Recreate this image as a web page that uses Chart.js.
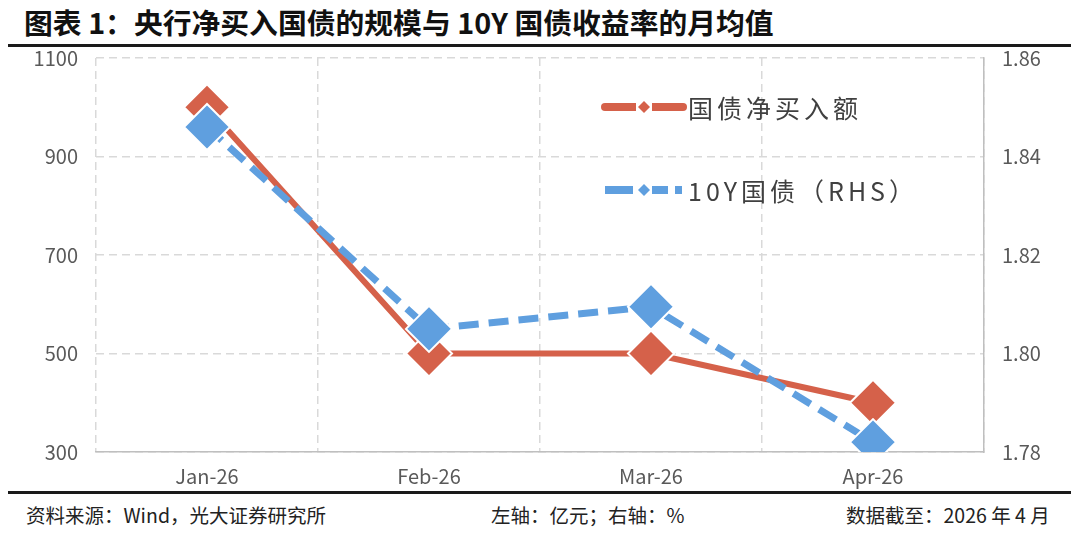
<!DOCTYPE html>
<html>
<head>
<meta charset="utf-8">
<script src="https://cdn.jsdelivr.net/npm/chart.js@4/dist/chart.umd.min.js"></script>
<style>
  html, body { margin: 0; padding: 0; background: #fff; }
  body { width: 1080px; height: 533px; position: relative; overflow: hidden;
         font-family: "Noto Sans CJK SC", "Noto Sans", sans-serif; }
  #title { position: absolute; left: 24px; top: 2px; font-size: 28.8px; font-weight: bold;
           color: #111; white-space: nowrap; line-height: 40px; }
  .rule { position: absolute; left: 8px; width: 1063px; height: 3px; background: #1a1a1a; }
  #wrap { position: absolute; left: 0; top: 28px; width: 1080px; height: 462px; }
  .foot { position: absolute; top: 501px; font-size: 19.5px; color: #222; white-space: nowrap; line-height: 28px; }
</style>
</head>
<body>
<div id="title">图表 1：央行净买入国债的规模与 10Y 国债收益率的月均值</div>
<div class="rule" style="top:44px"></div>
<div id="wrap"><canvas id="c"></canvas></div>
<div class="rule" style="top:491px"></div>
<div class="foot" style="left:26px">资料来源：Wind，光大证券研究所</div>
<div class="foot" style="left:491px">左轴：亿元；右轴：%</div>
<div class="foot" style="left:846px">数据截至：2026 年 4 月</div>

<script>
// ── Data ────────────────────────────────────────────────────────────────────
const months = ['Jan-26', 'Feb-26', 'Mar-26', 'Apr-26'];
const netBuy = [1000, 500, 500, 400];          // 国债净买入额, 亿元
const yield10y = [1.846, 1.805, 1.8095, 1.782]; // 10Y 国债, %
const leftTicks = [300, 500, 700, 900, 1100];
const rightTicks = [1.78, 1.80, 1.82, 1.84, 1.86];

const RED = '#d5614a';
const BLUE = '#5f9fdf';
const GRID = '#d9d9d9';
const TICK = '#595959';
const CANVAS_TOP = 28;

// ── Legend drawn inside the plot area ───────────────────────────────────────
const insideLegend = {
  id: 'insideLegend',
  afterDraw(chart) {
    const ctx = chart.ctx;
    const rows = [
      { ds: chart.data.datasets[1], y: 107 - CANVAS_TOP },
      { ds: chart.data.datasets[0], y: 190 - CANVAS_TOP }
    ];
    rows.forEach(r => {
      const c = r.ds.borderColor;
      ctx.save();
      ctx.strokeStyle = c;
      ctx.lineWidth = 8;
      ctx.lineCap = 'round';
      if (r.ds.borderDash) {
        ctx.lineCap = 'butt';
        ctx.setLineDash([28, 8, 0, 11, 16, 7, 7, 100]);
      }
      ctx.beginPath();
      ctx.moveTo(605, r.y);
      ctx.lineTo(683, r.y);
      ctx.stroke();
      ctx.setLineDash([]);
      // small diamond in the middle
      ctx.fillStyle = '#fff';
      ctx.fillRect(636, r.y - 6, 16, 12);
      ctx.fillStyle = c;
      ctx.beginPath();
      ctx.moveTo(644, r.y - 6);
      ctx.lineTo(650, r.y);
      ctx.lineTo(644, r.y + 6);
      ctx.lineTo(638, r.y);
      ctx.closePath();
      ctx.fill();
      ctx.fillStyle = '#404040';
      ctx.font = '25px "Noto Sans CJK SC"';
      ctx.letterSpacing = '4px';
      ctx.textBaseline = 'middle';
      ctx.fillText(r.ds.label, 688, r.y + 1);
      ctx.restore();
    });
  }
};

// ── Chart ───────────────────────────────────────────────────────────────────
new Chart(document.getElementById('c'), {
  type: 'line',
  data: {
    labels: months,
    datasets: [
      {
        label: '10Y国债（RHS）',
        data: yield10y,
        yAxisID: 'y2',
        order: 0,
        borderColor: BLUE,
        backgroundColor: BLUE,
        borderWidth: 7,
        borderDash: [20, 10],
        pointStyle: 'rectRot',
        pointRadius: 23,
        pointBackgroundColor: BLUE,
        pointBorderColor: '#fff',
        pointBorderWidth: 2,
        tension: 0
      },
      {
        label: '国债净买入额',
        data: netBuy,
        yAxisID: 'y',
        order: 1,
        borderColor: RED,
        backgroundColor: RED,
        borderWidth: 6,
        pointStyle: 'rectRot',
        pointRadius: 23,
        pointBackgroundColor: RED,
        pointBorderColor: '#fff',
        pointBorderWidth: 2,
        tension: 0
      }
    ]
  },
  options: {
    responsive: true,
    maintainAspectRatio: false,
    animation: false,
    layout: { padding: { top: 0, left: 0, right: 0, bottom: 0 } },
    plugins: {
      legend: { display: false },
      tooltip: { enabled: false }
    },
    scales: {
      x: {
        offset: true,
        grid: { offset: true, color: GRID, lineWidth: 1.5, drawTicks: false },
        border: { display: true, color: '#bfbfbf', width: 1.5, dash: [8, 5] },
        ticks: { color: TICK, font: { size: 20, family: 'Noto Sans CJK SC' }, padding: 12 },
        afterFit: s => { s.height = 38; }
      },
      y: {
        position: 'left',
        min: 300, max: 1100,
        afterBuildTicks: s => { s.ticks = leftTicks.map(v => ({ value: v })); },
        grid: { color: GRID, lineWidth: 1.5, drawTicks: false },
        border: { display: false, dash: [8, 5] },
        ticks: {
          color: TICK, font: { size: 20, family: 'Noto Sans CJK SC' }, padding: 18,
          callback: v => String(v)
        },
        afterFit: s => { s.width = 96; }
      },
      y2: {
        position: 'right',
        min: 1.78, max: 1.86,
        afterBuildTicks: s => { s.ticks = rightTicks.map(v => ({ value: v })); },
        grid: { drawOnChartArea: false, drawTicks: false },
        border: { display: true, color: '#bfbfbf', width: 1.5 },
        ticks: {
          color: TICK, font: { size: 20, family: 'Noto Sans CJK SC' }, padding: 18,
          callback: v => v.toFixed(2)
        },
        afterFit: s => { s.width = 96; }
      }
    }
  },
  plugins: [insideLegend]
});
</script>
</body>
</html>
